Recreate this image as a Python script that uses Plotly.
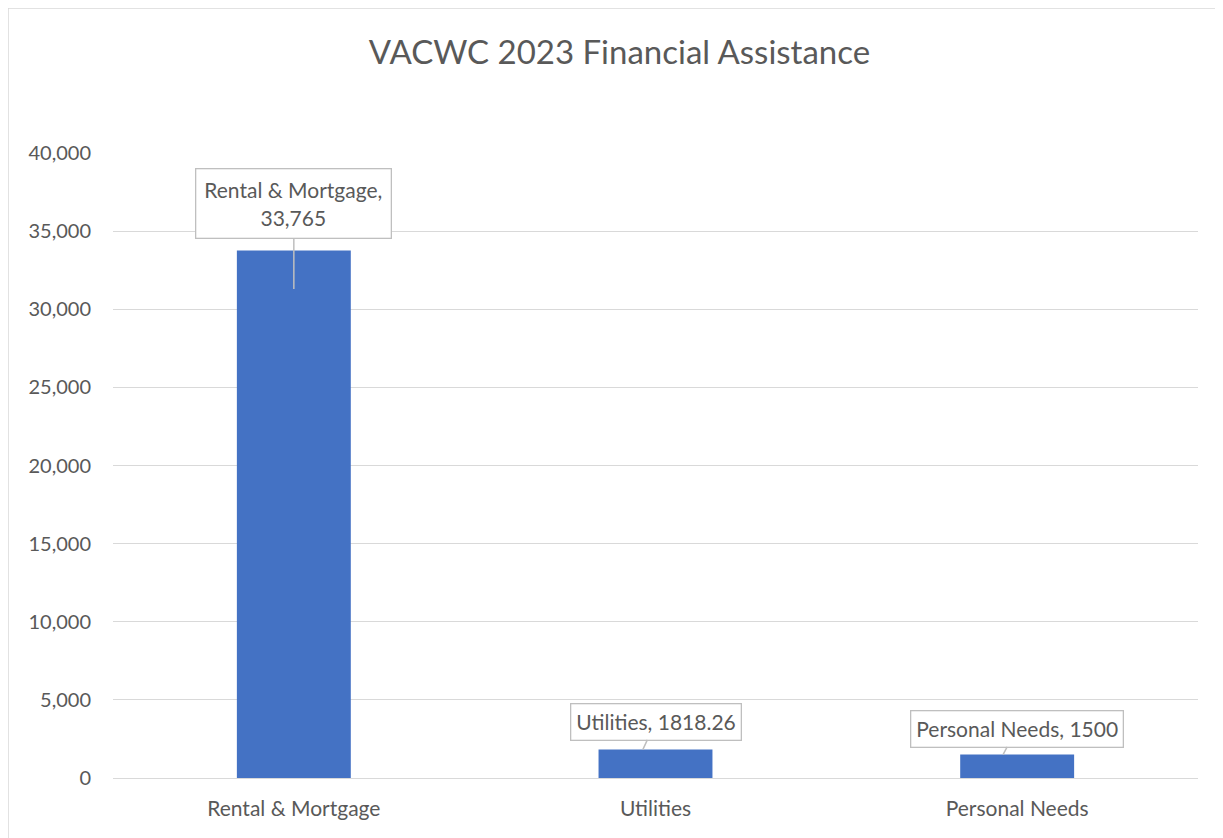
import plotly.graph_objects as go

categories = ["Rental & Mortgage", "Utilities", "Personal Needs"]
values = [33765, 1818.26, 1500]
label_texts = ["Rental & Mortgage,<br>33,765", "Utilities, 1818.26", "Personal Needs, 1500"]
tick_vals = [0, 5000, 10000, 15000, 20000, 25000, 30000, 35000, 40000]
tick_text = ["0", "5,000", "10,000", "15,000", "20,000", "25,000", "30,000", "35,000", "40,000"]

FONT = "Lato"
GREY = "#595959"

fig = go.Figure()
fig.add_trace(go.Bar(x=categories, y=values, marker_color="#4472C4", marker_line_width=0))

callouts = [
    dict(dx=0.0, ty=31300, ax=0, ay=-85, pad=8),
    dict(dx=-0.035, ty=None, ax=13, ay=-28, pad=5),
    dict(dx=-0.039, ty=None, ax=14, ay=-26, pad=5),
]
for i, (c, v, t) in enumerate(zip(categories, values, label_texts)):
    co = callouts[i]
    fig.add_annotation(
        x=i + co["dx"], y=co["ty"] if co["ty"] is not None else v,
        xref="x", yref="y",
        text=t, showarrow=True, arrowhead=0, arrowwidth=1.5, arrowcolor="#bfbfbf",
        ax=co["ax"], ay=co["ay"], axref="pixel", ayref="pixel",
        bgcolor="white", bordercolor="#bfbfbf", borderwidth=1.3, borderpad=co["pad"],
        font=dict(family=FONT, size=21, color=GREY),
    )

fig.update_layout(
    width=1223, height=838,
    margin=dict(l=105, r=33, t=145, b=68),
    paper_bgcolor="white", plot_bgcolor="white",
    title=dict(text="VACWC 2023 Financial Assistance", x=0.5, xref="container", y=1 - 44 / 838, yanchor="middle",
               font=dict(family=FONT, size=33, color=GREY)),
    bargap=0.685,
    showlegend=False,
    font=dict(family=FONT, color=GREY),
)
fig.update_yaxes(range=[0, 40000], tickvals=tick_vals, ticktext=tick_text,
                 gridcolor="#d9d9d9", gridwidth=1.3, zeroline=True, zerolinecolor="#d9d9d9", zerolinewidth=1.3,
                 tickfont=dict(family=FONT, size=20, color=GREY), ticks="", showline=False,
                 ticklabelstandoff=21)
fig.update_xaxes(type="category", tickfont=dict(family=FONT, size=21, color=GREY), showline=False, ticks="",
                 ticklabelstandoff=16)

# outer chart border (top and left edges visible)
fig.add_shape(type="line", xref="paper", yref="paper", x0=-105 / 1085, x1=1.1, y0=(838 - 68) / 625, y1=(838 - 68) / 625,
              line=dict(color="#d9d9d9", width=1.5))
fig.add_shape(type="line", xref="paper", yref="paper", x0=-105 / 1085, x1=-105 / 1085, y0=(838 - 68) / 625, y1=-0.2,
              line=dict(color="#d9d9d9", width=1.5))

fig.write_html("out.html")
